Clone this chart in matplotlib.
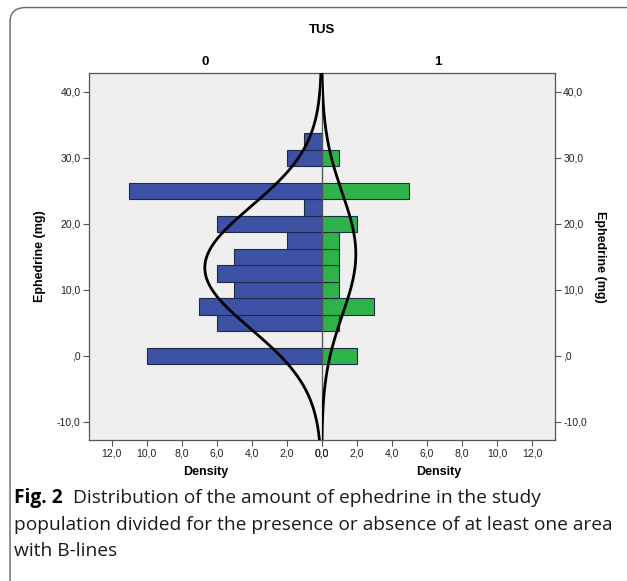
import numpy as np
import matplotlib.pyplot as plt
from matplotlib.patches import FancyBboxPatch

# Histogramm-Daten: Klassenmitten (mg) und Häufigkeiten je TUS-Gruppe
bin_centers = [0.0, 2.5, 5.0, 7.5, 10.0, 12.5, 15.0, 17.5, 20.0, 22.5, 25.0, 27.5, 30.0, 32.5]
counts_tus0 = [10, 0, 6, 7, 5, 6, 5, 2, 6, 1, 11, 0, 2, 1]
counts_tus1 = [2, 0, 1, 3, 1, 1, 1, 1, 2, 0, 5, 0, 1, 0]
bin_width = 2.5
group_labels = ["0", "1"]

y_ticks = [-10, 0, 10, 20, 30, 40]
y_tick_labels = ["-10,0", ",0", "10,0", "20,0", "30,0", "40,0"]
x_ticks = [0, 2, 4, 6, 8, 10, 12]
x_tick_labels = ["0,0", "2,0", "4,0", "6,0", "8,0", "10,0", "12,0"]

ylim = (-12.7, 42.8)
xmax = 13.3
bg = "#efefef"
edge = "#555555"
bar_edge = "#1f2a44"
colors = ["#3d52a5", "#2fb24a"]

plt.rcParams["font.family"] = ["Liberation Sans", "DejaVu Sans"]


# Normalverteilungskurve, skaliert auf die Häufigkeiten
def normal_curve(counts, y):
    c = np.array(counts, dtype=float)
    m = np.array(bin_centers)
    n = c.sum()
    mean = (c * m).sum() / n
    sd = np.sqrt((c * (m - mean) ** 2).sum() / n)
    return n * bin_width / (sd * np.sqrt(2 * np.pi)) * np.exp(-0.5 * ((y - mean) / sd) ** 2)


fig = plt.figure(figsize=(6.27, 5.81), dpi=100)

# Rahmen um die gesamte Abbildung
frame = FancyBboxPatch((0.016, -0.05), 1.1, 1.037, boxstyle="round,pad=0,rounding_size=0.025",
                       transform=fig.transFigure, facecolor="white", edgecolor="#666666",
                       linewidth=1.0, zorder=-10)
fig.patches.append(frame)

left, right, bottom, top = 0.142, 0.885, 0.243, 0.874
mid = 0.513
ax0 = fig.add_axes([left, bottom, mid - left, top - bottom])
ax1 = fig.add_axes([mid, bottom, right - mid, top - bottom])

y_curve = np.linspace(ylim[0], ylim[1], 400)

for ax, counts, color in [(ax0, counts_tus0, colors[0]), (ax1, counts_tus1, colors[1])]:
    ax.set_facecolor(bg)
    ax.barh(bin_centers, counts, height=bin_width, color=color, edgecolor=bar_edge, linewidth=0.8, zorder=2)
    ax.plot(normal_curve(counts, y_curve), y_curve, color="black", linewidth=2.0, zorder=3)
    ax.set_ylim(ylim)
    ax.set_xticks(x_ticks)
    ax.set_xticklabels(x_tick_labels, fontsize=7.5, color="#222222")
    ax.set_yticks(y_ticks)
    ax.set_yticklabels(y_tick_labels, fontsize=7.5, color="#222222")
    ax.tick_params(length=4, width=0.8, color=edge, pad=2)
    ax.set_xlabel("Density", fontsize=9, fontweight="bold", labelpad=6)
    for s in ax.spines.values():
        s.set_color(edge)
        s.set_linewidth(0.9)

ax0.set_xlim(xmax, 0)
ax1.set_xlim(0, xmax)
ax0.spines["right"].set_visible(False)
ax1.yaxis.tick_right()
ax1.yaxis.set_label_position("right")
ax1.tick_params(axis="y", left=False)

ax0.set_ylabel("Ephedrine (mg)", fontsize=9, fontweight="bold", labelpad=8)
ax1.set_ylabel("Ephedrine (mg)", fontsize=9, fontweight="bold", rotation=270, labelpad=14)

# Gruppentitel
ax0.set_title(group_labels[0], fontsize=9.5, fontweight="bold", pad=6)
ax1.set_title(group_labels[1], fontsize=9.5, fontweight="bold", pad=6)
fig.text(mid, 1 - 30 / 581, "TUS", ha="center", va="center", fontsize=9.5, fontweight="bold")

# Bildunterschrift
cap_font = ["Open Sans", "DejaVu Sans"]
cap_size = 13.8
t = fig.text(14 / 627, 1 - 498 / 581, "Fig. 2", fontsize=cap_size, fontweight="bold",
             family=cap_font, va="center", ha="left")
fig.canvas.draw()
bb = t.get_window_extent()
x_next = (bb.x1 + 10) / fig.bbox.width
fig.text(x_next, 1 - 498 / 581, "Distribution of the amount of ephedrine in the study",
         fontsize=cap_size, family=cap_font, va="center", ha="left", color="#1a1a1a")
fig.text(14 / 627, 1 - 525 / 581, "population divided for the presence or absence of at least one area",
         fontsize=cap_size, family=cap_font, va="center", ha="left", color="#1a1a1a")
fig.text(14 / 627, 1 - 551 / 581, "with B-lines",
         fontsize=cap_size, family=cap_font, va="center", ha="left", color="#1a1a1a")

fig.savefig("out.png", dpi=100)
